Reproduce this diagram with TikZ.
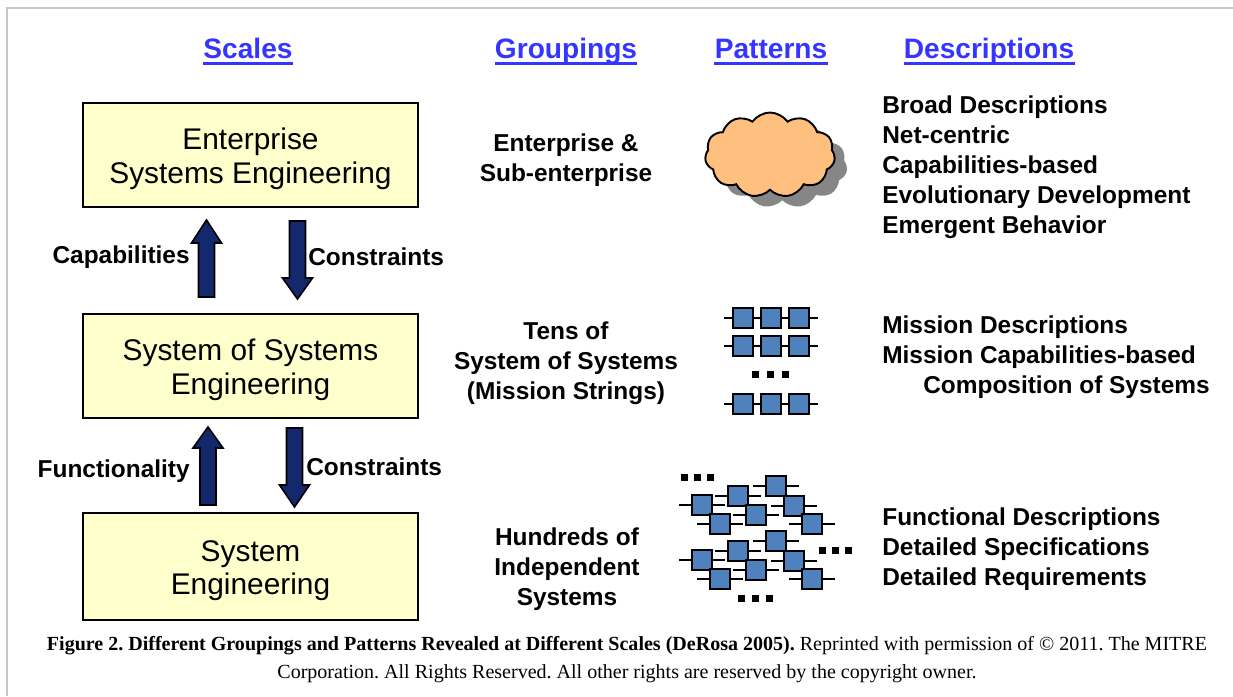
\documentclass[tikz,border=0pt]{standalone}
\usepackage{fontspec}
\setmainfont{Liberation Sans}
\newfontfamily\capfont{Liberation Serif}
\usetikzlibrary{shapes.symbols,shadows}
\frenchspacing

\definecolor{boxyellow}{HTML}{FFFFCC}
\definecolor{arrownavy}{HTML}{14286E}
\definecolor{cloudorange}{HTML}{FFC07F}
\definecolor{sqblue}{HTML}{4F81BD}
\definecolor{headblue}{HTML}{3535FF}
\definecolor{framegray}{HTML}{C8C8C8}

\begin{document}
\begin{tikzpicture}[x=0.02cm,y=-0.02cm,
	scalebox/.style={draw,line width=1.1pt,fill=boxyellow,minimum width=6.7cm,minimum height=2.08cm},
	boxtext/.style={align=center,inner sep=0pt,font=\fontsize{17}{19}\selectfont},
	heading/.style={headblue,font=\fontsize{16}{19}\selectfont\bfseries,inner sep=0pt,anchor=base},
	boldtext/.style={font=\fontsize{13.9}{17.07}\selectfont\bfseries,inner sep=0pt},
	blockarrow/.style={fill=arrownavy,draw=black,line width=0.9pt,line join=miter},
	sq/.style={draw,line width=0.9pt,fill=sqblue,minimum size=0.4cm,inner sep=0pt},
	stub/.style={line width=0.9pt},
	sqdot/.style={fill=black,minimum size=0.14cm,inner sep=0pt}]
	\newcommand\netpos{702/505,720/524,738/496,756/515,776/486,794/506,812/524};

	\useasboundingbox (0,0) rectangle (1233,696);
	\fill[white] (0,0) rectangle (1233,696);
	\draw[framegray,line width=1.2pt] (7,696) -- (7,8) -- (1233,8);

	% column headings
	\node[heading] (scales) at (248,59) {Scales};
	\node[heading] (groupings) at (566,59) {Groupings};
	\node[heading] (patterns) at (771,59) {Patterns};
	\node[heading] (descriptions) at (989,59) {Descriptions};
	\foreach \h in {scales,groupings,patterns,descriptions} {
		\draw[headblue,line width=1.7pt] ([yshift=-2.6pt]\h.base west) -- ([yshift=-2.6pt]\h.base east);
	}

	% scales
	\node[scalebox] (ese) at (250.5,155) {};
	\node[scalebox] (sose) at (250.5,366) {};
	\node[scalebox,minimum height=2.14cm] (se) at (250.5,566.5) {};
	\node[boxtext] (ese-text) at ([yshift=-2.2pt]ese.center) {Enterprise\\Systems Engineering};
	\node[boxtext] (sose-text) at ([yshift=-2.2pt]sose.center) {System of Systems\\Engineering};
	\node[boxtext] (se-text) at ([yshift=-2.2pt]se.center) {System\\Engineering};

	\foreach \x/\t/\p/\h in {206.5/297/220/243,297.5/221/299/278,208/505/427/448,294.5/428/507/485} {
		\filldraw[blockarrow] (\x-8,\t) -- (\x-8,\h) -- (\x-15,\h) -- (\x,\p) -- (\x+15,\h) -- (\x+8,\h) -- (\x+8,\t) -- cycle;
	}
	\node[boldtext,anchor=east] (capab) at (190,257) {Capabilities};
	\node[boldtext,anchor=west] (constr1) at (308,257) {Constraints};
	\node[boldtext,anchor=east] (funct) at (190,471) {Functionality};
	\node[boldtext,anchor=west] (constr2) at (306,467) {Constraints};

	% groupings
	\node[boldtext,align=center] (grp1) at (566,160.5) {Enterprise \&\\Sub-enterprise};
	\node[boldtext,align=center] (grp2) at (566,363) {Tens of\\System of Systems\\(Mission Strings)};
	\node[boldtext,align=center] (grp3) at (567,569) {Hundreds of\\Independent\\Systems};

	% patterns
	\node[cloud,cloud puffs=11,cloud puff arc=110,aspect=1.5,draw,line width=1.1pt,fill=cloudorange,
		minimum width=2.6cm,minimum height=1.7cm,
		drop shadow={shadow xshift=7pt,shadow yshift=-6pt,fill=gray!95,opacity=1}] (cloud) at (770,155) {};

	\foreach \r in {318,346,404} {
		\draw[stub] (724,\r) -- (818,\r);
		\foreach \c in {743,771,799} {
			\node[sq] (ch-\r-\c) at (\c,\r) {};
		}
	}
	\foreach \c in {755,770,785} {
		\node[sqdot] (chdot-\c) at (\c,374) {};
	}

	\foreach \dy in {0,55} {
		\foreach \cx/\cy in \netpos {
			\draw[stub] (\cx-23,\cy+\dy) -- (\cx+23,\cy+\dy);
		}
		\foreach \cx/\cy in \netpos {
			\node[sq] (net-\cx-\dy) at (\cx,\cy+\dy) {};
		}
	}
	\foreach \dx/\dy [count=\k] in {684/477,697/477,710/477,822/550,835/550,848/550,741/598,755/598,769/598} {
		\node[sqdot] (netdot-\k) at (\dx,\dy) {};
	}

	% descriptions
	\node[boldtext,align=left,anchor=west] (desc1) at (882,167) {Broad Descriptions\\Net-centric\\Capabilities-based\\Evolutionary Development\\Emergent Behavior};
	\node[boldtext,align=left,anchor=west] (desc2) at (882,357) {Mission Descriptions\\Mission Capabilities-based\\\hspace*{0.82cm}Composition of Systems};
	\node[boldtext,align=left,anchor=west] (desc3) at (882,549) {Functional Descriptions\\Detailed Specifications\\Detailed Requirements};

	% caption
	\node[font=\capfont\fontsize{11.4}{16}\selectfont,align=center] (caption) at (627,660)
		{\textbf{Figure 2. Different Groupings and Patterns Revealed at Different Scales (DeRosa 2005).} Reprinted with permission of © 2011. The MITRE\\Corporation. All Rights Reserved. All other rights are reserved by the copyright owner.};
\end{tikzpicture}
\end{document}
